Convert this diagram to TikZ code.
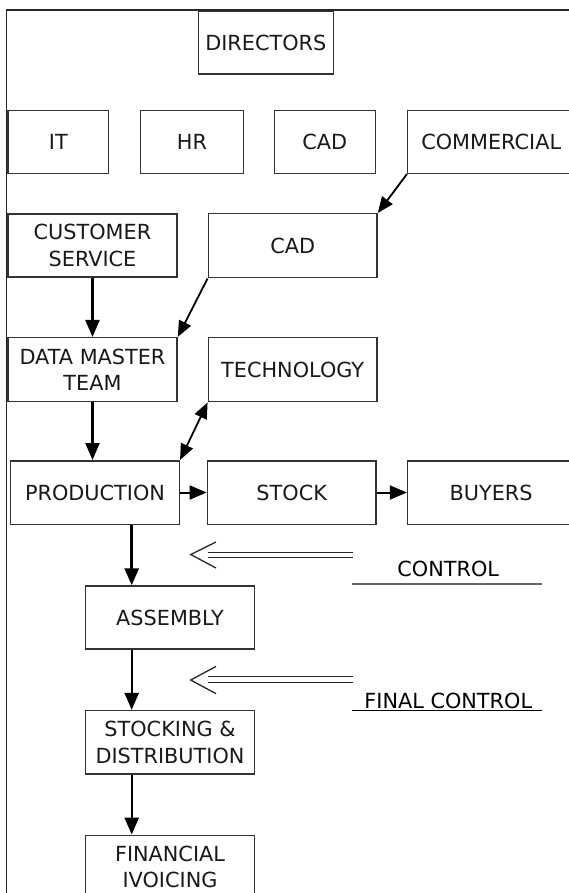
\documentclass[tikz,border=0pt]{standalone}
\usepackage{fontspec}
\setmainfont{DejaVu Sans}
\usetikzlibrary{arrows.meta,calc}

\begin{document}
\begin{tikzpicture}[x=1pt,y=-1pt,
  box/.style={draw=black!80, line width=1.5pt, fill=white, inner sep=0pt,
    align=center, text=black!90, font=\fontsize{20.8}{26.3}\selectfont},
  wide/.style={box, minimum width=168.7pt, minimum height=63.5pt},
  small/.style={box, minimum width=101pt, minimum height=63pt},
  lbl/.style={inner sep=0pt, text=black, font=\fontsize{20.8}{26.3}\selectfont},
  arr/.style={-{Triangle[length=17pt,width=14pt]}, line width=2.4pt, black},
  thick arr/.style={arr, line width=3pt},
  slant/.style={-{Triangle[length=16pt,width=13pt]}, line width=1.8pt, black},
  both slant/.style={{Triangle[length=16pt,width=13pt]}-{Triangle[length=16pt,width=13pt]}, line width=1.8pt, black},
  side/.style={-{Triangle[length=17pt,width=14pt]}, line width=2pt, black},
  dbl/.style={draw=black!85, line width=1.3pt, double=white},
  chevron/.style={draw=black!85, line width=1.3pt},
]
\useasboundingbox (0,0) rectangle (569,893);
\clip (0,0) rectangle (569,893);

% outer frame
\draw[line width=1.6pt, black!85] (6.3,900) -- (6.3,10) -- (580,10);

% top level
\node[box, minimum width=135pt, minimum height=62.3pt] (dir) at (265.8,42.9) {DIRECTORS};

% departments
\node[small, minimum width=100.7pt] (it)  at (58.3,141.8)  {IT};
\node[small, minimum width=102.6pt] (hr)  at (192,141.8)   {HR};
\node[small] (cada) at (324.8,141.8) {CAD};
\node[wide, minimum width=167pt, minimum height=63pt] (com) at (491.2,141.8) {COMMERCIAL};

% second row
\node[wide, minimum width=169pt, minimum height=63pt] (cs) at (92.5,245.5) {CUSTOMER\\SERVICE};
\node[wide, minimum height=64pt] (cadb) at (292.7,245.7) {CAD};

% third row
\node[wide, minimum width=169pt, minimum height=64pt] (dmt) at (92.5,369.7) {DATA MASTER\\TEAM};
\node[wide, minimum height=64pt] (tech) at (292.7,369.7) {TECHNOLOGY};

% production row
\node[wide, minimum width=168.6pt] (prod) at (95,492.5) {PRODUCTION};
\node[wide] (stock) at (291.7,492.5) {STOCK};
\node[wide, minimum width=167pt] (buy) at (491.1,492.5) {BUYERS};

% downstream chain
\node[wide, minimum width=168.6pt, minimum height=63pt] (asm) at (170,617.5) {ASSEMBLY};
\node[wide, minimum width=168.6pt, minimum height=63.3pt] (sd) at (170,742.3) {STOCKING \&\\DISTRIBUTION};
\node[wide, minimum width=168.6pt, minimum height=63.3pt] (fin) at (170,867) {FINANCIAL\\IVOICING};

% connectors
\draw[slant] (com.south west) -- (cadb.north east);
\draw[slant] (cadb.south west) -- (dmt.north east);
\draw[both slant] (tech.south west) -- (prod.north east);
\draw[arr] (cs.south) -- (cs.south |- dmt.north);
\draw[arr] (dmt.south) -- (dmt.south |- prod.north);
\draw[side] (prod.east) -- (stock.west);
\draw[side] (stock.east) -- (buy.west);
\draw[thick arr] ([xshift=36.7pt]prod.south) -- ([xshift=36.7pt]prod.south |- asm.north);
\draw[arr] ([xshift=-38.3pt]asm.south) -- ([xshift=-38.3pt]asm.south |- sd.north);
\draw[arr] ([xshift=-38.3pt]sd.south) -- ([xshift=-38.3pt]sd.south |- fin.north);

% control inputs
\coordinate (c1r) at (353.3,555);
\coordinate (c1l) at (208.3,555);
\coordinate (c2r) at (353.3,679.7);
\coordinate (c2l) at (208.3,679.7);
\draw[dbl, double distance=3.4pt] (c1r) -- (c1l);
\draw[chevron] ($(c1l)+(7.7,-13)$) -- ($(c1l)+(-17.6,-0.5)$) -- ($(c1l)+(7.7,13)$);
\draw[dbl, double distance=4.6pt] (c2r) -- (c2l);
\draw[chevron] ($(c2l)+(7.7,-13.3)$) -- ($(c2l)+(-17.6,0.3)$) -- ($(c2l)+(7.7,14)$);

\node[lbl, anchor=base] (ctl) at (448.2,576.7) {CONTROL};
\node[lbl, anchor=base] (fctl) at (448.3,708.8) {FINAL CONTROL};
\coordinate (u1l) at (352.3,584);
\coordinate (u1r) at (542.3,584);
\coordinate (u2l) at (352.3,710.5);
\coordinate (u2r) at (542.3,710.5);
\draw[line width=1.3pt, black!60] (u1l) -- (u1r);
\draw[line width=1.4pt, black] (u2l) -- (u2r);
\end{tikzpicture}
\end{document}
